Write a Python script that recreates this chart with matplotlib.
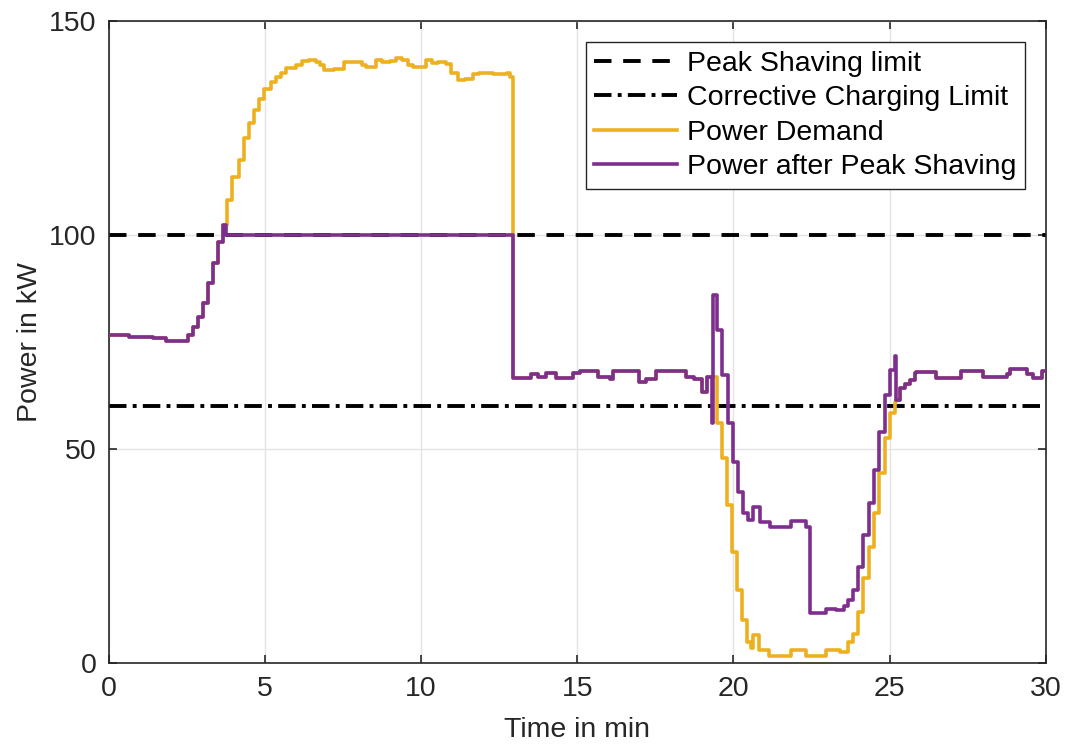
import numpy as np
import matplotlib
matplotlib.use('Agg')
import matplotlib.pyplot as plt

plt.rcParams['font.family'] = ['Liberation Sans', 'DejaVu Sans']

# limits in kW
peak_limit = 100
charge_limit = 60

# start: demand == after peak shaving
t_start = [0.0, 0.65, 1.40, 1.83, 2.36, 2.52, 2.68, 2.84, 3.00, 3.16, 3.32, 3.48]
p_start = [76.6, 76.2, 75.9, 75.3, 75.3, 76.6, 78.6, 80.9, 84.1, 88.8, 93.5, 98.4]

# peak: demand above limit
t_peak = [3.64, 3.80, 3.96, 4.17, 4.33, 4.49, 4.65, 4.81, 4.97, 5.18, 5.34, 5.50,
          5.66, 5.98, 6.20, 6.40, 6.63, 6.75, 6.90, 7.20, 7.53, 7.90, 8.10, 8.23,
          8.55, 8.75, 9.00, 9.19, 9.40, 9.57, 9.73, 10.15, 10.35, 10.55, 10.80,
          10.97, 11.18, 11.40, 11.66, 11.85, 12.30, 12.75, 12.85]
demand_peak = [102.3, 108.2, 113.6, 117.5, 122.6, 126.1, 129.2, 131.8, 134.0, 135.8,
               136.8, 137.9, 138.9, 139.7, 140.7, 140.9, 140.3, 139.7, 138.5, 138.7,
               140.5, 140.3, 139.7, 139.3, 140.9, 140.4, 140.7, 141.3, 140.9, 139.7,
               139.3, 140.9, 140.1, 140.5, 140.0, 137.8, 136.2, 136.5, 137.5, 137.9,
               137.6, 137.8, 137.0]
t_peak_ps = [3.64, 3.75, 12.85]
shaved_peak = [102.3, 100.0, 100.0]

# middle: both equal
t_mid = [12.93, 13.52, 13.74, 14.00, 14.33, 14.86, 15.10, 15.66, 16.04, 16.15,
         16.98, 17.20, 17.51, 18.47, 18.74, 19.00, 19.16]
p_mid = [66.5, 67.5, 66.8, 67.8, 66.5, 67.8, 68.2, 66.9, 66.4, 68.1,
         65.6, 66.4, 68.1, 66.9, 66.4, 63.4, 66.9]

# dip: demand below charging limit
t_dip = [19.30, 19.49, 19.63, 19.81, 19.97, 20.13, 20.29, 20.45, 20.55, 20.63,
         20.82, 21.14, 21.84, 22.32, 22.96, 23.40, 23.67, 23.83, 23.99, 24.15,
         24.33, 24.49, 24.66, 24.84, 25.00, 25.16]
demand_dip = [66.9, 56.0, 47.8, 36.9, 26.0, 17.1, 10.0, 5.0, 3.4, 6.5,
              3.0, 1.7, 3.0, 1.7, 3.0, 2.6, 5.0, 6.9, 12.0, 19.8,
              27.2, 35.0, 44.3, 52.5, 58.3, 61.0]
t_dip_ps = [19.30, 19.35, 19.49, 19.65, 19.83, 20.00, 20.16, 20.32, 20.48, 20.63,
            20.84, 21.16, 21.85, 22.32, 22.45, 22.96, 23.30, 23.53, 23.67, 23.83,
            23.99, 24.15, 24.33, 24.49, 24.66, 24.84, 25.00, 25.16]
shaved_dip = [56.0, 86.0, 77.8, 67.3, 56.0, 47.0, 40.0, 35.0, 33.4, 36.5,
              33.0, 31.8, 33.2, 31.8, 11.8, 12.7, 12.3, 13.3, 14.7, 17.0,
              22.5, 29.9, 37.3, 45.1, 54.0, 62.6, 68.5, 71.7]

# end: both equal
t_end = [25.20, 25.32, 25.48, 25.64, 25.80, 25.86, 26.50, 27.30, 28.00, 28.75,
         28.86, 29.39, 29.60, 29.87, 30.0]
p_end = [61.4, 64.2, 65.2, 66.1, 67.7, 68.0, 66.5, 68.2, 66.9, 67.5,
         68.7, 67.5, 66.5, 68.2, 68.2]

t_demand = t_start + t_peak + t_mid + t_dip + t_end
p_demand = p_start + demand_peak + p_mid + demand_dip + p_end
t_shaved = t_start + t_peak_ps + t_mid + t_dip_ps + t_end
p_shaved = p_start + shaved_peak + p_mid + shaved_dip + p_end

fig = plt.figure(figsize=(10.67, 7.45), dpi=100)
ax = fig.add_axes([0.102, 0.110, 0.878, 0.862])

ax.axhline(peak_limit, color='black', lw=2.8, ls=(0, (4.5, 3.0)), label='Peak Shaving limit', zorder=2)
ax.axhline(charge_limit, color='black', lw=2.8, ls=(0, (4.5, 1.6, 1.0, 1.6)), label='Corrective Charging Limit', zorder=2)
ax.plot(t_demand, p_demand, drawstyle='steps-post', color='#EDB120', lw=2.6, label='Power Demand', zorder=3)
ax.plot(t_shaved, p_shaved, drawstyle='steps-post', color='#7E2F8E', lw=2.6, label='Power after Peak Shaving', zorder=4)

ax.set_xlim(0, 30)
ax.set_ylim(0, 150)
ax.set_xticks([0, 5, 10, 15, 20, 25, 30])
ax.set_yticks([0, 50, 100, 150])
ax.grid(True, color='#e3e3e3', lw=1)
ax.set_axisbelow(True)
ax.tick_params(direction='in', top=True, right=True, length=6, width=1.2,
               labelsize=20.5, colors='#262626', pad=9)
for s in ax.spines.values():
    s.set_color('#262626')
    s.set_linewidth(1.2)

ax.set_xlabel('Time in min', fontsize=20.5, color='#262626', labelpad=11)
ax.set_ylabel('Power in kW', fontsize=20.5, color='#262626', labelpad=4)

leg = ax.legend(loc='upper right', bbox_to_anchor=(0.9776, 0.967), fontsize=20.5,
                frameon=True, fancybox=False, handlelength=2.9, handletextpad=0.35,
                borderpad=0.3, labelspacing=0.3, borderaxespad=0)
leg.get_frame().set_edgecolor('#262626')
leg.get_frame().set_linewidth(1.0)
leg.get_frame().set_alpha(1)

fig.savefig('out.png', dpi=100)
